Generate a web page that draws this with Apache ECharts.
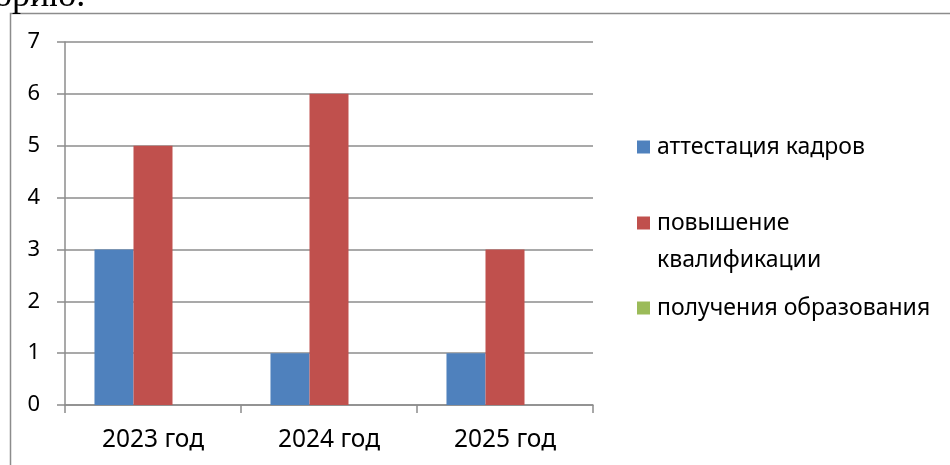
<!DOCTYPE html>
<html><head><meta charset="utf-8">
<script src="https://cdn.jsdelivr.net/npm/echarts@6/dist/echarts.min.js"></script>
<style>html,body{margin:0;padding:0;background:#fff}#c{width:950px;height:465px}</style>
</head><body><div id="c"></div>
<script>
const categories = ['2023 год', '2024 год', '2025 год'];
const seriesNames = ['аттестация кадров', 'повышение квалификации', 'получения образования'];
const attestation = [3, 1, 1];
const qualification = [5, 6, 3];
const education = [0, 0, 0];
const colors = ['#4F81BD', '#C0504D', '#9BBB59'];
const font = 'Noto Sans';
const gray = '#8c8c8c';

const chart = echarts.init(document.getElementById('c'), null, {renderer: 'canvas'});
const legendTops = [133, 209, 294];
const legends = seriesNames.map((n, i) => ({
  data: [n], left: 637, top: legendTops[i], orient: 'vertical',
  icon: 'rect', itemWidth: 13, itemHeight: 13, itemGap: 0, padding: 0,
  formatter: i === 1 ? 'повышение' : '{name}',
  textStyle: {fontFamily: font, fontSize: 23, lineHeight: 28, color: '#000', padding: [0, 0, 0, 2]},
  selectedMode: false
}));
chart.setOption({
  animation: false,
  textStyle: {fontFamily: font},
  grid: {left: 65, right: 357, top: 42, bottom: 60, containLabel: false},
  legend: legends,
  graphic: [
    {type: 'rect', shape: {x: 10.5, y: 13.5, width: 950, height: 470}, style: {fill: 'none', stroke: gray, lineWidth: 1.5}, silent: true},
    {type: 'text', x: 657, y: 260, style: {text: 'квалификации', font: '23px "Noto Sans"', fill: '#000', textVerticalAlign: 'middle'}},
    {type: 'text', x: -6, y: 15, style: {text: 'орию.', font: '36px "Liberation Serif"', fill: '#000', textVerticalAlign: 'bottom'}}
  ],
  xAxis: {
    type: 'category', data: categories,
    axisLine: {lineStyle: {color: gray, width: 1.5}},
    axisTick: {show: true, length: 8, lineStyle: {color: gray, width: 1.5}, alignWithLabel: false},
    axisLabel: {fontFamily: font, fontSize: 24.5, color: '#000', margin: 23}
  },
  yAxis: {
    type: 'value', min: 0, max: 7, interval: 1,
    axisLine: {show: true, lineStyle: {color: gray, width: 1.5}},
    axisTick: {show: true, length: 8, lineStyle: {color: gray, width: 1.5}},
    splitLine: {lineStyle: {color: gray, width: 1.5}},
    axisLabel: {fontFamily: font, fontSize: 22, color: '#000', margin: 25}
  },
  series: [
    {name: seriesNames[0], type: 'bar', data: attestation, itemStyle: {color: colors[0]}, barGap: '0%', barCategoryGap: '33.5%'},
    {name: seriesNames[1], type: 'bar', data: qualification, itemStyle: {color: colors[1]}, barGap: '0%', barCategoryGap: '33.5%'},
    {name: seriesNames[2], type: 'bar', data: education, itemStyle: {color: colors[2]}, barGap: '0%', barCategoryGap: '33.5%'}
  ]
});
</script></body></html>
